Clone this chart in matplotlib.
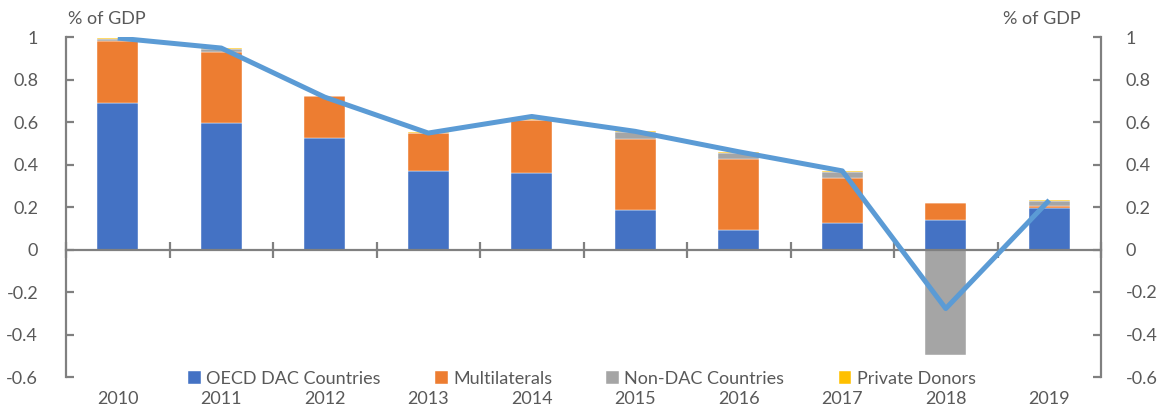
import matplotlib
matplotlib.use("Agg")
import matplotlib.pyplot as plt
import numpy as np

years = ["2010", "2011", "2012", "2013", "2014", "2015", "2016", "2017", "2018", "2019"]
oecd_dac = [0.689, 0.594, 0.525, 0.368, 0.360, 0.184, 0.090, 0.123, 0.140, 0.195]
multilaterals = [0.292, 0.337, 0.197, 0.182, 0.248, 0.336, 0.335, 0.213, 0.077, 0.011]
non_dac = [0.009, 0.011, 0.000, 0.000, 0.000, 0.033, 0.031, 0.029, -0.497, 0.022]
private_donors = [0.005, 0.006, 0.002, 0.002, 0.004, 0.003, 0.004, 0.005, 0.000, 0.003]
total = [0.995, 0.948, 0.717, 0.548, 0.626, 0.556, 0.460, 0.370, -0.278, 0.232]

series_names = ["OECD DAC Countries", "Multilaterals", "Non-DAC Countries", "Private Donors"]
colors = ["#4472C4", "#ED7D31", "#A5A5A5", "#FFC000"]
yticks = [-0.6, -0.4, -0.2, 0, 0.2, 0.4, 0.6, 0.8, 1]
ytick_labels = ["-0.6", "-0.4", "-0.2", "0", "0.2", "0.4", "0.6", "0.8", "1"]

plt.rcParams['font.family'] = ['Lato', 'DejaVu Sans']
txt = "#595959"
axc = "#808080"
fs = 13

fig = plt.figure(figsize=(11.61, 4.12), dpi=100)
ax = fig.add_axes([66/1161, 1-377/412, (1101-66)/1161, (377-37)/412])
x = np.arange(len(years))
w = 0.4

pos_base = np.zeros(len(years))
neg_base = np.zeros(len(years))
for vals, col, name in zip([oecd_dac, multilaterals, non_dac, private_donors], colors, series_names):
    v = np.array(vals)
    bottoms = np.where(v >= 0, pos_base, neg_base)
    ax.bar(x, v, w, bottom=bottoms, color=col, label=name, zorder=2,
           edgecolor="white", linewidth=0.3)
    pos_base = pos_base + np.where(v >= 0, v, 0)
    neg_base = neg_base + np.where(v < 0, v, 0)

ax.plot(x, total, color="#5B9BD5", linewidth=3.6, zorder=3, solid_capstyle="butt")

ax.set_xlim(-0.5, len(years) - 0.5)
ax.set_ylim(-0.6, 1.0)

ax.spines["top"].set_visible(False)
ax.spines["bottom"].set_position(("data", 0))
for s in ["left", "right", "bottom"]:
    ax.spines[s].set_color(axc)
    ax.spines[s].set_linewidth(1.6)

ax.set_xticks(np.arange(-0.5, len(years) - 0.4, 1.0))
ax.set_xticklabels([])
ax.tick_params(axis="x", direction="inout", length=11, width=1.6, color=axc)

ax.set_yticks(yticks)
ax.set_yticklabels(ytick_labels)
ax.tick_params(axis="y", direction="in", length=6, width=1.6, color=axc,
               labelsize=fs, labelcolor=txt, pad=20, left=True, right=True)

ax2 = ax.twinx()
ax2.set_ylim(-0.6, 1.0)
ax2.set_yticks(yticks)
ax2.set_yticklabels(ytick_labels)
ax2.tick_params(axis="y", direction="in", length=6, width=1.6, color=axc,
                labelsize=fs, labelcolor=txt, pad=18)
for s in ["top", "bottom", "left", "right"]:
    ax2.spines[s].set_visible(False)

for i, yr in enumerate(years):
    ax.text(i, -0.065, yr, transform=ax.get_xaxis_transform(), ha="center", va="center",
            fontsize=fs, color=txt)

fig.text(68/1161, 1-19/412, "% of GDP", ha="left", va="center", fontsize=fs, color=txt)
fig.text(1081/1161, 1-19/412, "% of GDP", ha="right", va="center", fontsize=fs, color=txt)

leg = ax.legend(loc="center", bbox_to_anchor=(582/1161, 1-379/412), bbox_transform=fig.transFigure,
                ncol=4, frameon=False, fontsize=fs, handlelength=0.7, handleheight=0.7,
                handletextpad=0.3, columnspacing=3.0, labelcolor=txt)

fig.savefig("out.png", dpi=100)
